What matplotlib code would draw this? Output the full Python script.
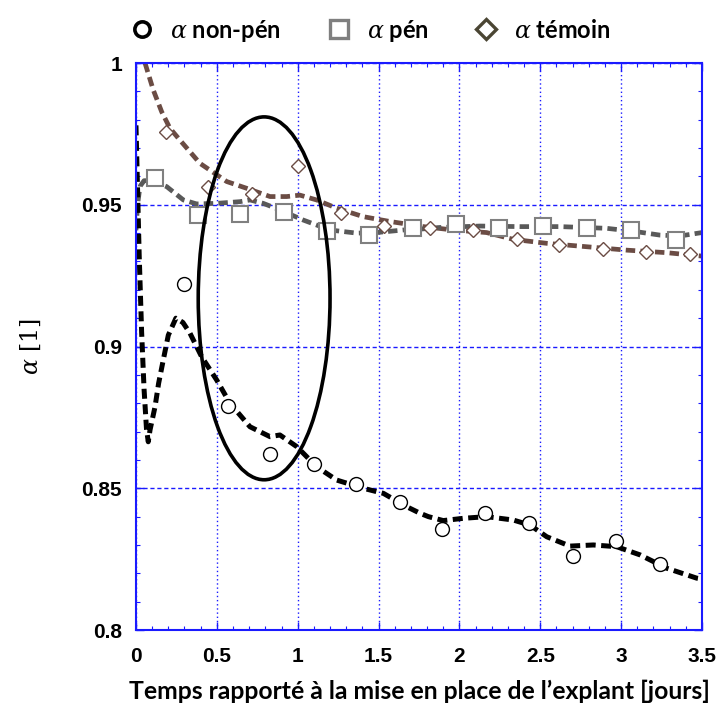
import numpy as np
import matplotlib
matplotlib.use('Agg')
from matplotlib import pyplot as plt
from matplotlib.lines import Line2D
from matplotlib.patches import Ellipse
from matplotlib.ticker import MultipleLocator, FormatStrFormatter

plt.rcParams['font.family'] = 'Liberation Sans'
plt.rcParams['font.weight'] = 'bold'
# alpha en italique serif, non gras
plt.rcParams['mathtext.fontset'] = 'custom'
plt.rcParams['mathtext.it'] = 'DejaVu Serif:style=italic:weight=normal'
plt.rcParams['mathtext.rm'] = 'DejaVu Serif:weight=normal'

# points mesurés
x_nonpen = [0.30, 0.57, 0.83, 1.10, 1.36, 1.63, 1.89, 2.16, 2.43, 2.70, 2.97, 3.24]
y_nonpen = [0.922, 0.879, 0.862, 0.8585, 0.8515, 0.845, 0.8356, 0.8414, 0.8379, 0.8261, 0.8315, 0.8232]

x_pen = [0.12, 0.385, 0.643, 0.917, 1.183, 1.443, 1.711, 1.979, 2.247, 2.519, 2.787, 3.061, 3.337]
y_pen = [0.9595, 0.9464, 0.9466, 0.9476, 0.9409, 0.9393, 0.9417, 0.9431, 0.9417, 0.9426, 0.9419, 0.9411, 0.9376]

x_temoin = [0.184, 0.447, 0.715, 1.0, 1.268, 1.536, 1.82, 2.086, 2.354, 2.618, 2.886, 3.154, 3.426]
y_temoin = [0.9758, 0.9564, 0.9538, 0.9638, 0.9472, 0.9426, 0.9418, 0.9411, 0.9378, 0.9358, 0.9343, 0.9332, 0.9326]

# courbes lissées
fx_nonpen = [0.0, 0.01, 0.02, 0.035, 0.05, 0.065, 0.076, 0.087, 0.10, 0.118, 0.14, 0.169, 0.20, 0.247,
             0.29, 0.334, 0.406, 0.499, 0.581, 0.705, 0.829, 0.89, 0.994, 1.117, 1.241, 1.406, 1.53,
             1.674, 1.756, 1.808, 1.90, 2.024, 2.168, 2.333, 2.437, 2.54, 2.684, 2.828, 2.972, 3.117,
             3.282, 3.467, 3.5]
fy_nonpen = [0.978, 0.955, 0.932, 0.905, 0.885, 0.871, 0.8664, 0.8706, 0.874, 0.8788, 0.887, 0.8953, 0.904, 0.910,
             0.9085, 0.9047, 0.8964, 0.8882, 0.880, 0.8717, 0.8682, 0.8688, 0.8647, 0.8576, 0.8529, 0.850, 0.8482,
             0.8435, 0.8412, 0.840, 0.8386, 0.8394, 0.840, 0.8388, 0.837, 0.8329, 0.8296, 0.830, 0.8294, 0.8265,
             0.8218, 0.8183, 0.818]

fx_pen = [0.0, 0.01, 0.025, 0.05, 0.08, 0.12, 0.19, 0.293, 0.375, 0.499, 0.643, 0.705, 0.787, 0.89,
          1.035, 1.2, 1.365, 1.488, 1.653, 1.756, 1.88, 2.127, 2.375, 2.622, 2.91, 3.096, 3.24, 3.364, 3.5]
fy_pen = [0.941, 0.950, 0.9565, 0.9585, 0.9585, 0.958, 0.9564, 0.9517, 0.9503, 0.9505, 0.9511, 0.9517, 0.9505, 0.9482,
          0.9446, 0.9411, 0.940, 0.9402, 0.9411, 0.9414, 0.942, 0.9425, 0.9423, 0.9423, 0.9417, 0.9405, 0.9393, 0.939, 0.9402]

fx_temoin = [0.056, 0.08, 0.107, 0.159, 0.21, 0.272, 0.396, 0.561, 0.685, 0.829, 0.932, 1.014, 1.117, 1.241,
             1.406, 1.571, 1.777, 1.962, 2.168, 2.333, 2.54, 2.787, 3.034, 3.282, 3.5]
fy_temoin = [1.0, 0.9955, 0.9905, 0.9828, 0.977, 0.9728, 0.9646, 0.9582, 0.9558, 0.9529, 0.9529, 0.9534, 0.9517, 0.9488,
             0.9458, 0.9441, 0.9423, 0.9411, 0.9402, 0.9378, 0.9364, 0.9352, 0.934, 0.9331, 0.9319]

# zone entourée
ell_centre = (0.7925, 0.917)
ell_larg, ell_haut = 0.815, 0.128

bleu = '#1a1aff'
c_noir = 'black'
c_gris = '#595959'
c_brun = '#6b4c44'

fig = plt.figure(figsize=(7.24, 7.09), dpi=100)
ax = fig.add_axes([0.1878, 0.1114, 0.7818, 0.7997])

dash = (0, (2.0, 1.1))
ax.plot(fx_temoin, fy_temoin, color=c_brun, lw=3.4, ls=dash, zorder=2)
ax.plot(fx_pen, fy_pen, color=c_gris, lw=3.4, ls=dash, zorder=2)
ax.plot(fx_nonpen, fy_nonpen, color=c_noir, lw=3.6, ls=dash, zorder=2)

ax.plot(x_nonpen, y_nonpen, 'o', ms=10, mfc='white', mec='black', mew=1.0, zorder=3)
ax.plot(x_pen, y_pen, 's', ms=11, mfc='white', mec='#808080', mew=1.5, zorder=3)
ax.plot(x_temoin, y_temoin, 'D', ms=7.5, mfc='white', mec=c_brun, mew=1.0, zorder=3)

ax.add_patch(Ellipse(ell_centre, ell_larg, ell_haut, fill=False, ec='black', lw=2.6, zorder=4))

ax.set_xlim(0, 3.5)
ax.set_ylim(0.8, 1.0)
ax.xaxis.set_major_locator(MultipleLocator(0.5))
ax.xaxis.set_minor_locator(MultipleLocator(0.1))
ax.yaxis.set_major_locator(MultipleLocator(0.05))
ax.yaxis.set_minor_locator(MultipleLocator(0.01))
ax.xaxis.set_major_formatter(FormatStrFormatter('%g'))
ax.yaxis.set_major_formatter(FormatStrFormatter('%g'))

ax.xaxis.grid(True, color=bleu, ls=(0, (1, 2)), lw=1.0)
ax.yaxis.grid(True, color=bleu, ls=(0, (3, 2)), lw=1.0)
ax.set_axisbelow(True)

for s in ax.spines.values():
    s.set_color(bleu)
    s.set_linewidth(1.5)

ax.tick_params(which='both', direction='in', top=True, right=True, color=bleu, labelsize=15)
ax.tick_params(which='major', length=6, width=1.0)
ax.tick_params(which='minor', length=3, width=0.8)
ax.tick_params(axis='x', which='major', pad=12)
ax.tick_params(axis='y', which='major', pad=10)

ax.set_xlabel('Temps rapporté à la mise en place de l\u2019explant [jours]',
              fontfamily='Lato', fontweight='bold', fontsize=17.8, labelpad=10)
ax.set_ylabel(r'$\alpha$ [1]', fontfamily='DejaVu Serif', fontweight='normal', fontsize=17, labelpad=28)

handles = [
    Line2D([], [], ls='none', marker='o', ms=11, mfc='white', mec='black', mew=2.6),
    Line2D([], [], ls='none', marker='s', ms=13, mfc='white', mec='#7f7f7f', mew=2.4),
    Line2D([], [], ls='none', marker='D', ms=10, mfc='white', mec='#4a4533', mew=2.4),
]
labels = [r'$\alpha$ non-pén', r'$\alpha$ pén', r'$\alpha$ témoin']
fig.legend(handles, labels, loc='upper center', bbox_to_anchor=(0.512, 1.005), ncol=3,
           frameon=False, handlelength=1.0, handletextpad=0.68, columnspacing=1.95,
           prop={'family': 'Lato', 'weight': 'bold', 'size': 17})

fig.savefig('out.png', dpi=100)
